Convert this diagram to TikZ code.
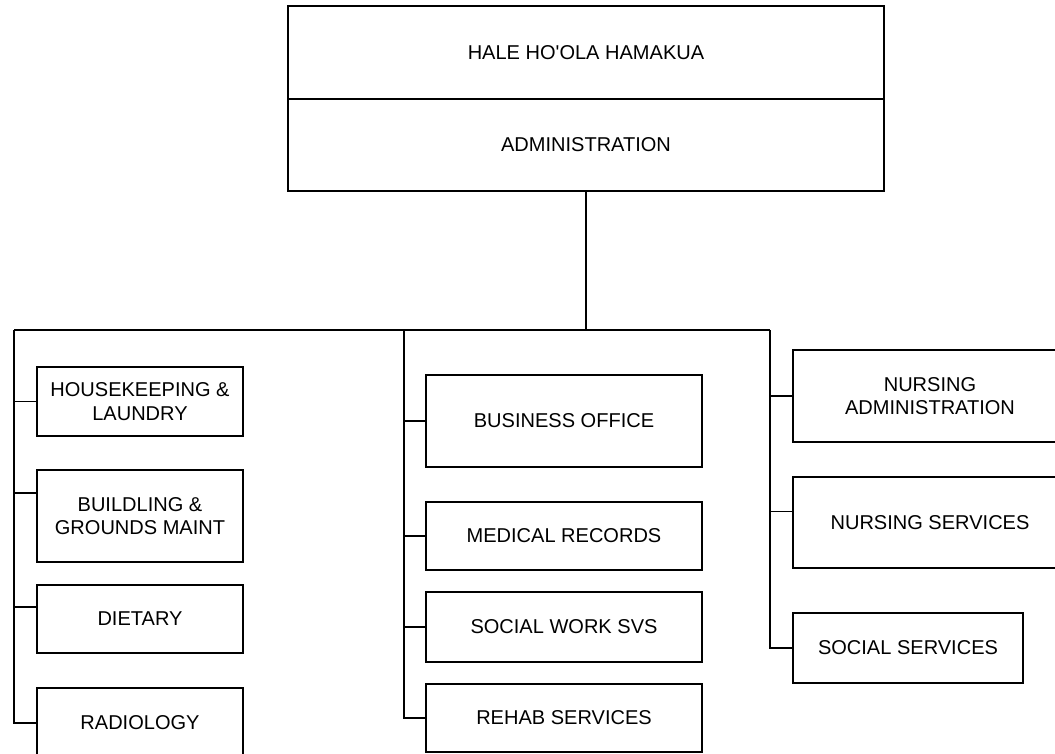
\documentclass[tikz,border=0pt]{standalone}
\usepackage{fontspec}
\setmainfont{Liberation Sans}
\usetikzlibrary{positioning,calc}

\begin{document}
\begin{tikzpicture}[
		x=0.02cm, y=-0.02cm,
		dept/.style={rectangle, draw, line width=1.1pt, align=center, inner sep=2pt, font=\fontsize{11.4}{13.4}\selectfont},
		leftdept/.style={dept, minimum width=4.12cm},
		middept/.style={dept, minimum width=5.52cm},
		rightdept/.style={dept, minimum width=5.48cm},
		link/.style={line width=1.1pt}
		]
		\useasboundingbox (0,0) rectangle (1055,754);
		
		% Vertice
		\node[dept, minimum width=11.92cm, minimum height=1.86cm] (hale) at (586,52.5) {HALE HO\textquotesingle OLA HAMAKUA};
		\node[dept, minimum width=11.92cm, minimum height=1.84cm, below=-1.1pt of hale] (admin) {ADMINISTRATION};
		
		% Colonna sinistra
		\node[leftdept, minimum height=1.38cm] (housekeeping) at (140,401.5) {HOUSEKEEPING \&\\LAUNDRY};
		\node[leftdept, minimum height=1.84cm] (building) at (140,516) {BUILDLING \&\\GROUNDS MAINT};
		\node[leftdept, minimum height=1.36cm] (dietary) at (140,619) {DIETARY};
		\node[leftdept, minimum height=1.4cm] (radiology) at (140,723) {RADIOLOGY};
		
		% Colonna centrale
		\node[middept, minimum height=1.84cm] (business) at (564,421) {BUSINESS OFFICE};
		\node[middept, minimum height=1.36cm] (medical) at (564,536) {MEDICAL RECORDS};
		\node[middept, minimum height=1.4cm] (socialwork) at (564,627) {SOCIAL WORK SVS};
		\node[middept, minimum height=1.36cm] (rehab) at (564,718) {REHAB SERVICES};
		
		% Colonna destra
		\node[rightdept, minimum height=1.84cm] (nursadmin) at (930,396) {NURSING\\ADMINISTRATION};
		\node[rightdept, minimum height=1.82cm] (nurssvc) at (930,522.5) {NURSING SERVICES};
		\node[dept, minimum width=4.6cm, minimum height=1.4cm] (socialsvc) at (908,648) {SOCIAL SERVICES};
		
		% Linee
		\coordinate (bus) at (586,330);
		\coordinate (busL) at (14,330);
		\coordinate (busM) at (404,330);
		\coordinate (busR) at (770,330);
		\coordinate (building-in) at ([yshift=0.46cm]building.west);
		\coordinate (dietary-in) at ([yshift=0.24cm]dietary.west);
		\coordinate (nurssvc-in) at ([yshift=0.22cm]nurssvc.west);
		
		\draw[link] (admin.south) -- (bus);
		\draw[link] (busL) -- (busR);
		\foreach \t in {housekeeping.west, building-in, dietary-in, radiology.west}
			\draw[link] (busL) |- (\t);
		\foreach \t in {business.west, medical.west, socialwork.west, rehab.west}
			\draw[link] (busM) |- (\t);
		\foreach \t in {nursadmin.west, nurssvc-in, socialsvc.west}
			\draw[link] (busR) |- (\t);
	\end{tikzpicture}
\end{document}
